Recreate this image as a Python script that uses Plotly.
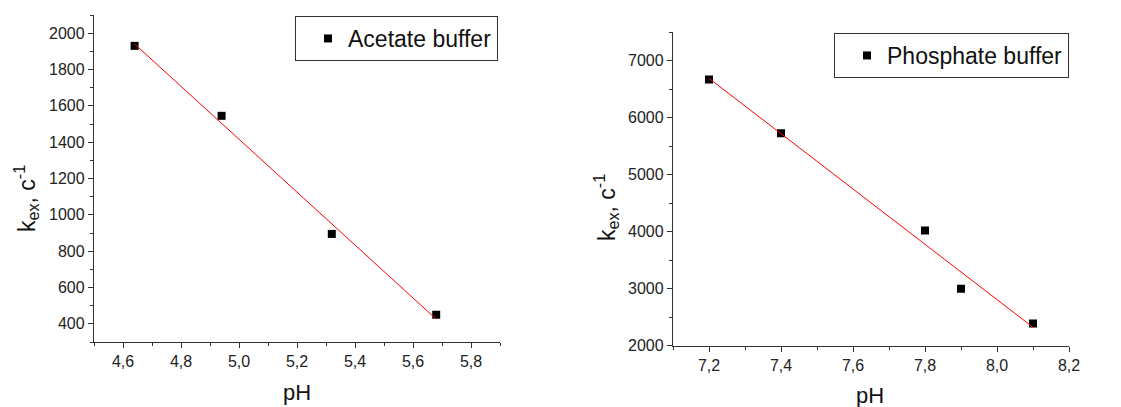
import numpy as np
import plotly.graph_objects as go

# Acetate buffer
ph_acetate = [4.64, 4.94, 5.32, 5.68]
k_acetate = [1930, 1545, 895, 450]
# Phosphate buffer
ph_phosphate = [7.2, 7.4, 7.8, 7.9, 8.1]
k_phosphate = [6670, 5730, 4020, 3000, 2390]

# tick labels
x1_ticks = [4.6, 4.8, 5.0, 5.2, 5.4, 5.6, 5.8]
x1_labels = ["4,6", "4,8", "5,0", "5,2", "5,4", "5,6", "5,8"]
x1_minor = [4.5, 4.7, 4.9, 5.1, 5.3, 5.5, 5.7, 5.9]
y1_ticks = [400, 600, 800, 1000, 1200, 1400, 1600, 1800, 2000]
y1_minor = [300, 500, 700, 900, 1100, 1300, 1500, 1700, 1900, 2100]
x2_ticks = [7.2, 7.4, 7.6, 7.8, 8.0, 8.2]
x2_labels = ["7,2", "7,4", "7,6", "7,8", "8,0", "8,2"]
x2_minor = [7.1, 7.3, 7.5, 7.7, 7.9, 8.1]
y2_ticks = [2000, 3000, 4000, 5000, 6000, 7000]
y2_minor = [2500, 3500, 4500, 5500, 6500, 7500]

W, H = 1121, 407

fit1 = np.polyfit(ph_acetate, k_acetate, 1)
fit2 = np.polyfit(ph_phosphate, k_phosphate, 1)
fx1 = [min(ph_acetate), max(ph_acetate)]
fx2 = [min(ph_phosphate), max(ph_phosphate)]

fig = go.Figure()
mk = dict(symbol="square", size=8, color="black")
fig.add_trace(go.Scatter(x=ph_acetate, y=k_acetate, mode="markers", marker=mk,
                         name="Acetate buffer", xaxis="x", yaxis="y", legend="legend"))
fig.add_trace(go.Scatter(x=fx1, y=list(np.polyval(fit1, fx1)), mode="lines",
                         line=dict(color="red", width=1), showlegend=False, xaxis="x", yaxis="y"))
fig.add_trace(go.Scatter(x=ph_phosphate, y=k_phosphate, mode="markers", marker=mk,
                         name="Phosphate buffer", xaxis="x2", yaxis="y2", legend="legend2"))
fig.add_trace(go.Scatter(x=fx2, y=list(np.polyval(fit2, fx2)), mode="lines",
                         line=dict(color="red", width=1), showlegend=False, xaxis="x2", yaxis="y2"))

def px_x(p):
    return p / W

def px_y(p):
    return (H - p) / H

axis_common = dict(showline=True, linecolor="#333", linewidth=1.3, ticks="outside",
                   ticklen=5, tickwidth=1, tickcolor="#333", showgrid=False, zeroline=False,
                   tickfont=dict(size=16, color="#222"), mirror=False, automargin=False)

def minor(vals):
    return dict(tickvals=vals, ticks="outside", ticklen=3, tickwidth=1, tickcolor="#333", showgrid=False)

ann_font = dict(color="#111")

fig.update_layout(
    template="none",
    width=W, height=H, margin=dict(l=0, r=0, t=0, b=0, pad=0), autosize=False,
    paper_bgcolor="white", plot_bgcolor="white",
    font=dict(family="Liberation Sans, Arial, sans-serif", color="#111"),
    xaxis=dict(domain=[px_x(94), px_x(500)], range=[4.5, 5.9], anchor="y",
               tickmode="array", tickvals=x1_ticks, ticktext=x1_labels, minor=minor(x1_minor), **axis_common),
    yaxis=dict(domain=[px_y(342), px_y(15)], range=[300, 2100], anchor="x",
               tickmode="array", tickvals=y1_ticks, ticktext=[str(v) for v in y1_ticks], minor=minor(y1_minor), **axis_common),
    xaxis2=dict(domain=[px_x(673), px_x(1069)], range=[7.1, 8.2], anchor="y2",
                tickmode="array", tickvals=x2_ticks, ticktext=x2_labels, minor=minor(x2_minor), **axis_common),
    yaxis2=dict(domain=[px_y(345.7), px_y(32.3)], range=[2000, 7500], anchor="x2",
                tickmode="array", tickvals=y2_ticks, ticktext=[str(v) for v in y2_ticks], minor=minor(y2_minor), **axis_common),
    legend=dict(x=px_x(498), y=px_y(16), xanchor="right", yanchor="top",
                bordercolor="#333", borderwidth=1, bgcolor="white", indentation=12,
                font=dict(size=23, color="#111"), itemwidth=30),
    legend2=dict(x=px_x(1069), y=px_y(33), xanchor="right", yanchor="top",
                 bordercolor="#333", borderwidth=1, bgcolor="white", indentation=12,
                 font=dict(size=23, color="#111"), itemwidth=30),
    annotations=[
        dict(text="pH", x=px_x(297), y=px_y(392), xref="paper", yref="paper",
             xanchor="center", yanchor="middle", showarrow=False, font=dict(size=22, **ann_font)),
        dict(text="pH", x=px_x(870), y=px_y(395), xref="paper", yref="paper",
             xanchor="center", yanchor="middle", showarrow=False, font=dict(size=22, **ann_font)),
        dict(text="k<sub>ex</sub>, c<sup>-1</sup>", x=px_x(26), y=px_y(199), xref="paper", yref="paper",
             xanchor="center", yanchor="middle", showarrow=False, textangle=-90, font=dict(size=23, **ann_font)),
        dict(text="k<sub>ex</sub>, c<sup>-1</sup>", x=px_x(606), y=px_y(208), xref="paper", yref="paper",
             xanchor="center", yanchor="middle", showarrow=False, textangle=-90, font=dict(size=23, **ann_font)),
    ],
)

fig.write_html("out.html")
